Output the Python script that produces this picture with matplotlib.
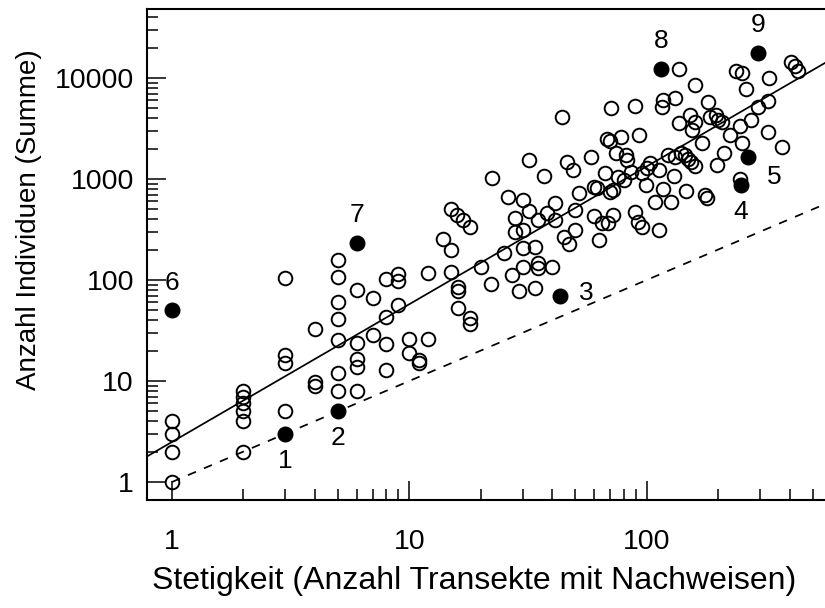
import matplotlib
matplotlib.use("Agg")
import matplotlib.pyplot as plt
import numpy as np
from matplotlib.ticker import FixedLocator, NullFormatter

plt.rcParams['font.family'] = ['Liberation Sans', 'DejaVu Sans']

# open circles: Stetigkeit (x) and Anzahl Individuen (y)
open_x = [1, 1, 1, 1,
          2, 2, 2, 2, 2, 2,
          3, 3, 3, 3,
          4, 4, 4,
          5, 5, 5, 5, 5, 5, 5,
          6, 6, 6, 6, 6,
          7, 7,
          8, 8, 8, 8,
          9, 9, 9,
          10, 10, 11, 11, 12, 12,
          13.9, 15, 15, 15.9, 16.9, 18, 15, 16, 16, 16, 18, 18,
          20, 22, 22.4, 25, 26, 30, 28, 28, 30, 30, 34, 27, 29, 30, 35, 35, 40,
          32, 37, 44, 46, 49, 58,
          32, 38, 41, 41, 35, 45, 47, 50, 50, 60, 65, 69, 72, 89, 92, 96, 113, 63,
          52, 60, 62, 70, 72, 67, 76, 80, 86, 34,
          99, 117, 108, 126, 130, 146, 176, 179, 248,
          96, 100, 103, 113, 74, 82, 83, 68, 70, 78, 93, 123,
          131, 139, 145, 149, 154, 160, 171, 211, 198,
          131, 117, 116, 89, 71,
          137, 160, 238, 253, 262, 328, 406, 420, 434,
          182, 323, 294, 152, 160, 137, 155,
          184, 195, 200, 208, 248, 274, 225, 253, 323, 372]
open_y = [4, 3, 2, 1,
          8, 7, 6, 5, 4, 2,
          18, 15, 5, 104,
          32.5, 9.8, 8.9,
          158, 108, 60, 41, 25.5, 11.9, 8,
          80, 23.6, 16.5, 13.7, 8,
          67, 28.5,
          102, 43, 23, 12.8,
          115, 97, 57,
          26, 19, 16, 15, 26, 118,
          255, 200, 500, 440, 390, 333, 121, 85, 78, 53, 42, 36.5,
          135, 92, 1015, 185, 668, 620, 408, 300, 313, 205, 214, 112, 77, 135, 146, 130, 133,
          1540, 1071, 4080, 1460, 1228, 1640,
          486, 465, 575, 393, 393, 268, 228, 313, 493, 430, 364, 364, 440, 474, 378, 335, 313, 249,
          733, 840, 809, 749, 778, 1138, 1054, 977, 1180, 83,
          872, 790, 596, 590, 1060, 765, 700, 650, 990,
          1138, 1276, 1430, 1228, 1800, 1730, 1540, 2500, 2400, 2620, 2730, 1730,
          1660, 1800, 1730, 1590, 1470, 1340, 2250, 1800, 1380,
          6300, 6050, 5200, 5280, 5010,
          12200, 8450, 11800, 11300, 7730, 10000, 14300, 13100, 11800,
          5830, 5870, 5200, 4300, 3700, 3560, 3080,
          4080, 4300, 3850, 3690, 3370, 3840, 2730, 2250, 2940, 2050]

# highlighted species (filled circles) and their numbers
filled_x = [3, 5, 43, 250, 268, 1, 6, 115, 294]
filled_y = [3, 5, 70, 870, 1640, 50, 235, 12300, 17800]
filled_labels = ["1", "2", "3", "4", "5", "6", "7", "8", "9"]
label_pos = ["below", "below", "right", "below", "right5", "above", "above", "above", "above"]

# regression line  y = a * x^b  and 1:1 line
reg_a = 2.49
reg_b = 1.364

xlim = (0.781, 611)
ylim = (0.663, 48200)

x_major = [1, 10, 100]
y_major = [1, 10, 100, 1000, 10000]

fig = plt.figure(figsize=(8.25, 6.08), dpi=100)
ax = fig.add_axes([146.5 / 825, 108 / 608, 1.0 - 146.5 / 825 + 0.01, (500 - 9) / 608])
ax.set_xscale('log')
ax.set_yscale('log')
ax.set_xlim(*xlim)
ax.set_ylim(*ylim)

xx = np.logspace(np.log10(xlim[0]), np.log10(xlim[1]), 200)
ax.plot(xx, reg_a * xx ** reg_b, color='black', lw=1.25, zorder=2)
xd = np.logspace(0, np.log10(xlim[1]), 200)
ax.plot(xd, xd, color='black', lw=1.25, dashes=(5, 5), zorder=2)

ax.plot(open_x, open_y, linestyle='none', marker='o', ms=9.8, mfc='none',
        mec='black', mew=1.4, zorder=3)
ax.plot(filled_x, filled_y, linestyle='none', marker='o', ms=10.5, mfc='black',
        mec='black', mew=1.0, zorder=4)

for x, y, t, p in zip(filled_x, filled_y, filled_labels, label_pos):
    if p == 'below':
        off = (0, -19.5)
    elif p == 'above':
        off = (0, 20)
    elif p == 'right5':
        off = (19, -14)
    else:
        off = (19, 2)
    ax.annotate(t, (x, y), xytext=off, textcoords='offset points',
                ha='center', va='center', fontsize=19, zorder=5)

for s in ['left', 'bottom', 'top']:
    ax.spines[s].set_linewidth(1.5)
ax.spines['right'].set_visible(False)

x_minor = [m * 10 ** e for e in range(0, 3) for m in range(2, 10) if m * 10 ** e < xlim[1]]
y_minor = [m * 10 ** e for e in range(0, 5) for m in range(2, 10) if m * 10 ** e < ylim[1]]

ax.xaxis.set_major_locator(FixedLocator(x_major))
ax.set_xticklabels([str(v) for v in x_major])
ax.xaxis.set_minor_locator(FixedLocator(x_minor))
ax.xaxis.set_minor_formatter(NullFormatter())
ax.yaxis.set_major_locator(FixedLocator(y_major))
ax.set_yticklabels([str(v) for v in y_major])
ax.yaxis.set_minor_locator(FixedLocator(y_minor))
ax.yaxis.set_minor_formatter(NullFormatter())

ax.tick_params(which='both', direction='in', top=False, right=False, width=1.1)
ax.tick_params(which='major', length=13.5, labelsize=20.5)
ax.tick_params(which='minor', length=8)
ax.tick_params(axis='x', which='major', pad=21)
ax.tick_params(axis='y', which='major', pad=9)

fig.text(474 / 825, 1 - 581 / 608, 'Stetigkeit (Anzahl Transekte mit Nachweisen)',
         ha='center', va='center', fontsize=23)
fig.text(29 / 825, 1 - 220 / 608, 'Anzahl Individuen (Summe)', rotation=90,
         ha='center', va='center', fontsize=20)

fig.savefig('out.png', dpi=100)
